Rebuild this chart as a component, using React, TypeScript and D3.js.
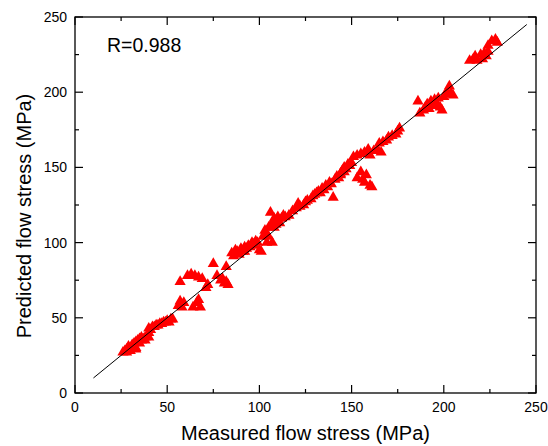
import React from "react";
import * as d3 from "d3";

const measured: number[] = [
  26, 27, 28, 28, 29, 29, 30, 30, 31, 32, 32, 33, 33, 34, 34, 35, 35, 36, 36, 37, 38, 38, 39, 40, 40, 41, 42, 43, 44, 45, 46, 47, 48, 49, 50, 51, 52, 53, 33, 40,
  56, 57, 58, 59, 64, 66, 67, 68,
  57, 61, 63, 65, 67, 69, 71, 72, 75, 77, 79, 80, 81, 82, 82, 83,
  85, 86, 87, 88, 89, 90, 91, 92, 93, 94, 95, 96, 97, 98, 99, 100, 101, 102, 103, 104, 105, 106, 107, 107, 108, 109, 110, 111, 113, 114,
  103, 105, 108, 110, 112, 97, 92,
  116, 118, 120, 121, 122, 124, 125, 126, 128, 129, 130, 132, 133, 134, 135, 136, 137, 138, 139, 140, 141, 142, 143, 144, 145, 146, 147, 148, 149, 150,
  131, 144, 146,
  153, 155, 156, 157, 158, 160, 161,
  151, 153, 155, 157, 159, 160, 162, 164, 166, 165, 167, 169, 170, 172, 174, 175, 176,
  186, 187, 189, 190, 191, 192, 193, 194, 195, 196, 197, 198, 199, 200, 201, 202, 203, 204, 205,
  214, 216, 217, 218, 220, 221, 222, 223, 224, 224, 226, 228, 229,
];
const predicted: number[] = [
  27, 28, 27, 29, 29, 31, 28, 30, 32, 31, 33, 30, 34, 34, 35, 33, 36, 35, 37, 36, 35, 37, 38, 40, 43, 42, 44, 44, 45, 45, 46, 46, 47, 47, 48, 47, 49, 49, 29, 37,
  58, 61, 57, 60, 57, 60, 62, 57,
  74, 78, 79, 78, 77, 76, 70, 72, 86, 78, 75, 76, 73, 74, 84, 72,
  93, 91, 95, 94, 92, 96, 94, 97, 96, 98, 97, 100, 99, 101, 100, 95, 94, 104, 108, 100, 110, 120, 100, 113, 116, 112, 115, 113, 118, 117,
  106, 104, 110, 117, 116, 98, 94,
  118, 121, 123, 126, 124, 125, 127, 128, 129, 131, 132, 134, 133, 136, 135, 138, 137, 140, 139, 130, 142, 144, 143, 146, 148, 150, 149, 152, 151, 153,
  133, 145, 147,
  143, 147, 142, 140, 145, 138, 137,
  157, 158, 159, 160, 162, 158, 161, 162, 160, 166, 167, 168, 170, 171, 172, 174, 176,
  194, 186, 188, 190, 192, 189, 194, 191, 195, 192, 196, 190, 188, 197, 199, 200, 204, 199, 198,
  221, 222, 224, 221, 225, 222, 226, 224, 227, 231, 234, 235, 233,
];
const xTicks = [0, 50, 100, 150, 200, 250];
const yTicks = [0, 50, 100, 150, 200, 250];
const minorTicks = [25, 75, 125, 175, 225];
const fitLine = [10, 245];
const rLabel = "R=0.988";
const xTitle = "Measured flow stress (MPa)";
const yTitle = "Predicted flow stress (MPa)";

const W = 548;
const H = 446;
const L = 75, R = 536, T = 17, B = 393;

export default function App() {
  const x = d3.scaleLinear().domain([0, 250]).range([L, R]);
  const y = d3.scaleLinear().domain([0, 250]).range([B, T]);
  const tri = d3.symbol().type(d3.symbolTriangle).size(54)() as string;
  const font = "'Liberation Sans', Arial, sans-serif";
  const pts = measured.map((m, i) => [m, predicted[i]]);
  const line = d3.line<number>().x((d) => x(d)).y((d) => y(d))(fitLine) as string;
  return (
    <svg width={W} height={H} style={{ position: "absolute", left: 0, top: 0 }}>
      <rect x={0} y={0} width={W} height={H} fill="#fff" />
      {pts.map((p, i) => (
        <path key={i} d={tri} transform={`translate(${x(p[0])},${y(p[1])})`} fill="#ff0000" />
      ))}
      <path d={line} stroke="#000" strokeWidth={1} fill="none" />
      <rect x={L} y={T} width={R - L} height={B - T} fill="none" stroke="#000" strokeWidth={1.3} />
      {xTicks.map((t) => (
        <g key={"x" + t}>
          <line x1={x(t)} x2={x(t)} y1={B} y2={B - 8} stroke="#000" strokeWidth={1.2} />
          <line x1={x(t)} x2={x(t)} y1={T} y2={T + 8} stroke="#000" strokeWidth={1.2} />
          <text x={x(t)} y={412} fontSize={14} fontFamily={font} textAnchor="middle">{t}</text>
        </g>
      ))}
      {minorTicks.map((t) => (
        <g key={"m" + t}>
          <line x1={x(t)} x2={x(t)} y1={B} y2={B - 4} stroke="#000" strokeWidth={1.2} />
          <line x1={x(t)} x2={x(t)} y1={T} y2={T + 4} stroke="#000" strokeWidth={1.2} />
          <line x1={L} x2={L + 4} y1={y(t)} y2={y(t)} stroke="#000" strokeWidth={1.2} />
          <line x1={R} x2={R - 4} y1={y(t)} y2={y(t)} stroke="#000" strokeWidth={1.2} />
        </g>
      ))}
      {yTicks.map((t) => (
        <g key={"y" + t}>
          <line x1={L} x2={L + 8} y1={y(t)} y2={y(t)} stroke="#000" strokeWidth={1.2} />
          <line x1={R} x2={R - 8} y1={y(t)} y2={y(t)} stroke="#000" strokeWidth={1.2} />
          <text x={67} y={y(t) + 5} fontSize={14} fontFamily={font} textAnchor="end">{t}</text>
        </g>
      ))}
      <text x={107} y={52} fontSize={19.5} fontFamily={font}>{rLabel}</text>
      <text x={(L + R) / 2} y={440} fontSize={20} fontFamily={font} textAnchor="middle">{xTitle}</text>
      <text transform={`translate(31,${216}) rotate(-90)`} fontSize={20} fontFamily={font} textAnchor="middle">{yTitle}</text>
    </svg>
  );
}
